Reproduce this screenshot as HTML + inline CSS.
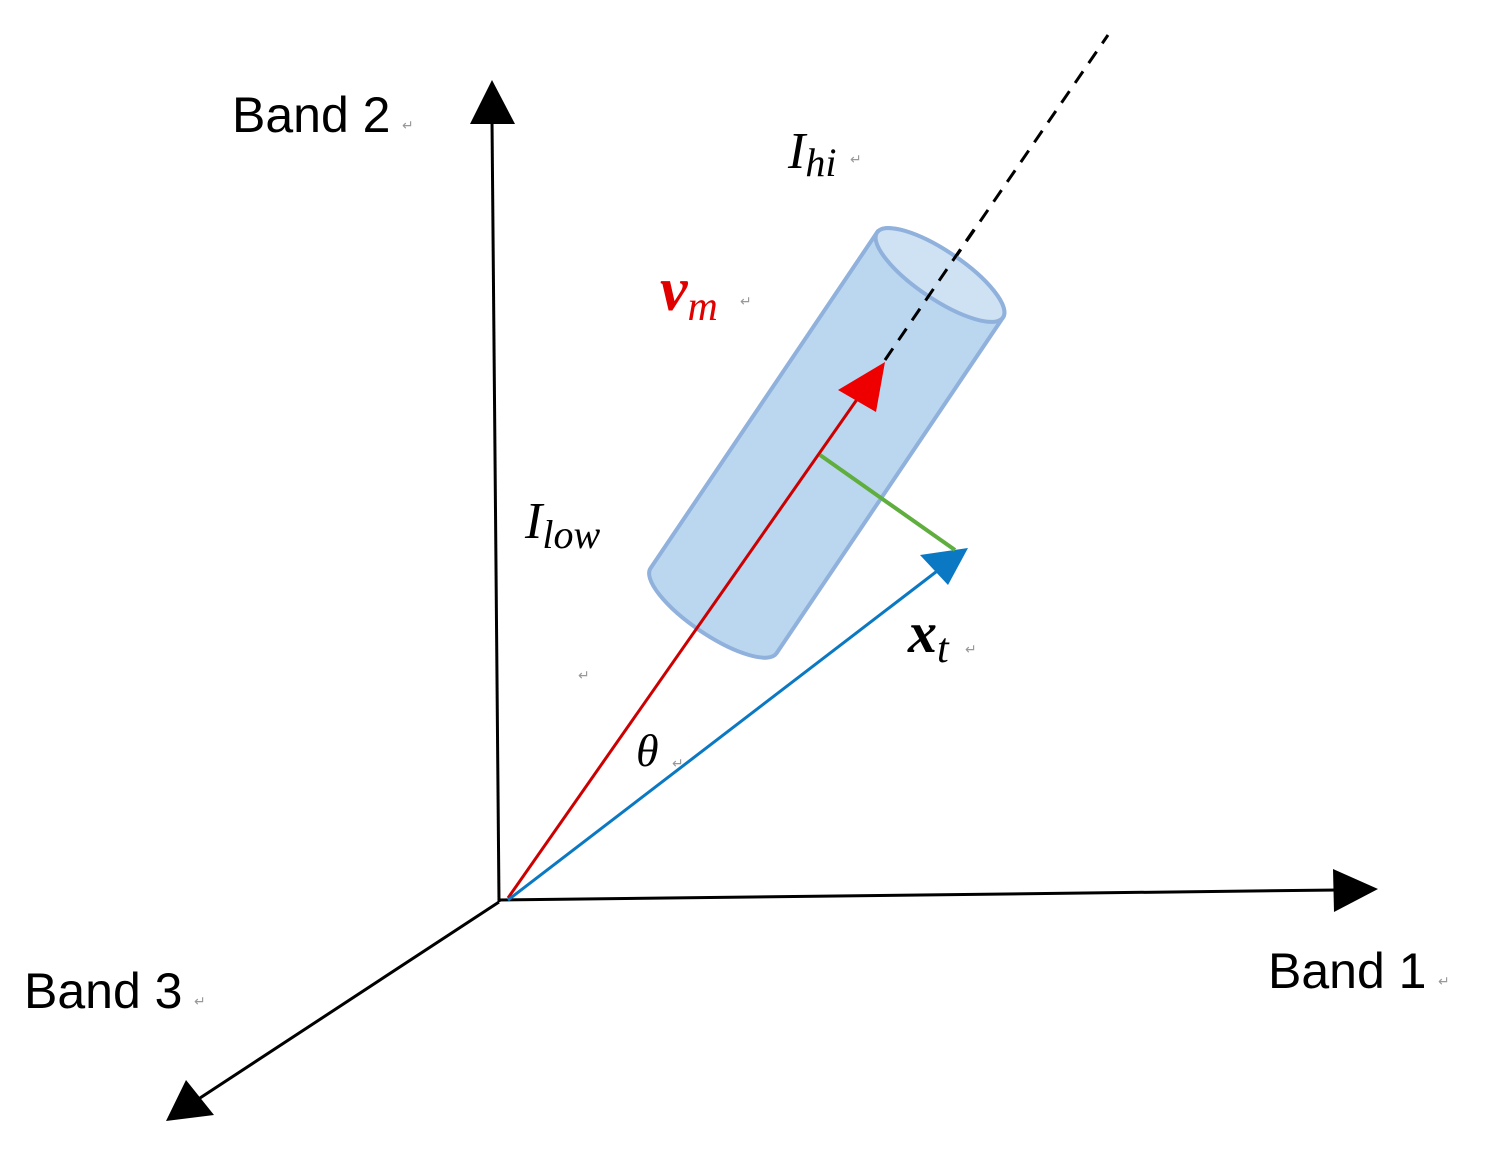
<!DOCTYPE html>
<html><head><style>
body{margin:0;background:#fff;}
svg{display:block;}
text{font-family:"Liberation Sans",sans-serif;}
text.m{font-family:"Liberation Serif",serif;font-style:italic;}
.r{fill:#999;font-size:14px;}
</style></head><body>
<svg width="1505" height="1164" viewBox="0 0 1505 1164">
<!-- axes -->
<line x1="499" y1="902" x2="492" y2="120" stroke="#000" stroke-width="3"/>
<polygon points="492,80 470,124 515,124" fill="#000"/>
<line x1="499" y1="900" x2="1338" y2="890" stroke="#000" stroke-width="3"/>
<polygon points="1378,889 1333,869 1334,912" fill="#000"/>
<line x1="499" y1="902" x2="200" y2="1098" stroke="#000" stroke-width="3"/>
<polygon points="166,1121 186,1080 214,1115" fill="#000"/>
<!-- dashed -->
<line x1="885" y1="360" x2="1108" y2="35" stroke="#000" stroke-width="3" stroke-dasharray="14,10"/>
<!-- cylinder -->
<g transform="translate(940,275) rotate(34)">
<path d="M-76,0 L-76,405 A76,24 0 0 0 76,405 L76,0 A76,24 0 0 0 -76,0 Z" fill="#b4d3ee" fill-opacity="0.9" stroke="#8fb1dc" stroke-width="4"/>
<ellipse cx="0" cy="0" rx="76" ry="24" fill="#cfe2f4" stroke="#8fb1dc" stroke-width="4"/>
</g>
<line x1="885" y1="360" x2="975" y2="228" stroke="#000" stroke-width="3" stroke-dasharray="14,10"/>
<!-- red vector -->
<line x1="508" y1="898" x2="858" y2="398" stroke="#c00" stroke-width="3"/>
<polygon points="885,362 838,390 876,412" fill="#e00"/>
<!-- blue -->
<line x1="508" y1="900" x2="945" y2="565" stroke="#0a78c2" stroke-width="3"/>
<polygon points="968,548 920,555 948,585" fill="#0a78c2"/>
<!-- green -->
<line x1="820" y1="455" x2="955" y2="550" stroke="#5fae3e" stroke-width="4"/>
<!-- labels -->
<text x="232" y="132" font-size="50">Band 2</text><text x="402" y="130" class="r">↵</text>
<text x="1268" y="988" font-size="50">Band 1</text><text x="1438" y="986" class="r">↵</text>
<text x="24" y="1008" font-size="50">Band 3</text><text x="194" y="1006" class="r">↵</text>
<text x="788" y="168" class="m" font-size="52">I<tspan font-size="40" dy="8">hi</tspan></text><text x="850" y="164" class="r">↵</text>
<text x="525" y="538" class="m" font-size="52">I<tspan font-size="40" dy="10">low</tspan></text>
<text x="660" y="310" class="m" font-size="62" fill="#e00000" font-weight="bold">v<tspan font-size="42" dy="10" font-weight="normal">m</tspan></text><text x="740" y="306" class="r">↵</text>
<text x="908" y="652" class="m" font-size="58" font-weight="bold">x<tspan font-size="42" dy="10" font-weight="normal">t</tspan></text><text x="965" y="654" class="r">↵</text>
<text x="636" y="766" class="m" font-size="46">θ</text><text x="672" y="768" class="r">↵</text>
<text x="578" y="680" class="r">↵</text>
</svg>
</body></html>
